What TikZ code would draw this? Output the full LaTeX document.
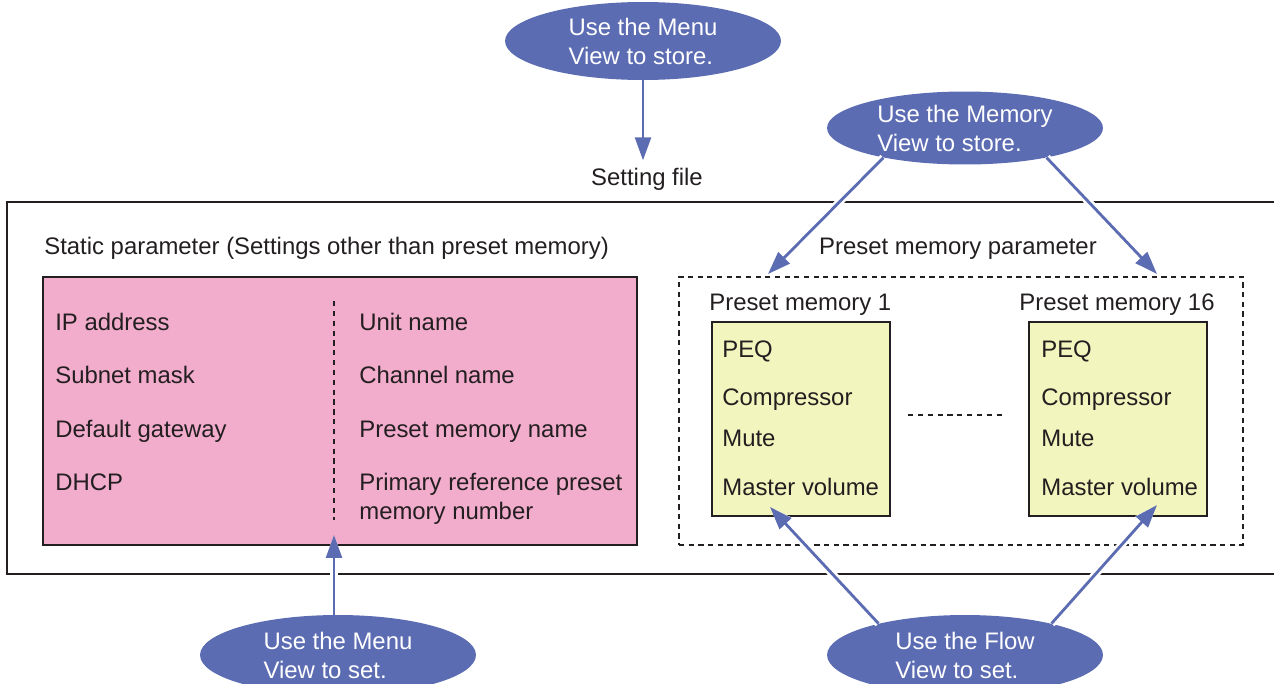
\documentclass[tikz,border=0pt]{standalone}
\usepackage{fontspec}
\setmainfont{Liberation Sans}
\usetikzlibrary{shapes.geometric,arrows.meta,fit}

\definecolor{viewblue}{RGB}{92,108,178}
\definecolor{staticpink}{RGB}{242,172,204}
\definecolor{presetyellow}{RGB}{243,245,190}
\definecolor{inkgray}{RGB}{35,31,32}

\tikzset{
  txt/.style={anchor=base west, inner sep=0pt, text=inkgray, font=\fontsize{13.6}{16.5}\selectfont},
  viewbubble/.style={ellipse, fill=viewblue, text=white, align=left, inner sep=0pt,
    minimum width=5.52cm, minimum height=1.56cm, font=\fontsize{13.6}{16.5}\selectfont},
  viewarrow/.style={draw=viewblue, line width=1.6pt, -{Triangle[length=13pt,width=9pt]},
    preaction={draw=white, line width=4.5pt}},
  framebox/.style={draw=inkgray, line width=1.4pt, inner sep=0pt},
  staticbox/.style={draw=inkgray, fill=staticpink, line width=1.6pt, inner sep=0pt},
  presetbox/.style={draw=inkgray, fill=presetyellow, line width=1.5pt, inner sep=0pt},
  presetarea/.style={draw=inkgray, line width=1.5pt, dash pattern=on 3pt off 2.5pt, inner sep=0pt}
}

\begin{document}
\begin{tikzpicture}[x=0.02cm, y=-0.02cm]
    \clip (0,0) rectangle (1274,683);

    % Outer frame of the setting file
    \node[framebox, fit={(7,202) (1320,574)}] (settingframe) {};
    \node[txt, anchor=base] (setfile) at (647,185) {Setting file};

    % Static parameters
    \node[txt] (statictitle) at (44,254) {Static parameter (Settings other than preset memory)};
    \node[staticbox, fit={(43,277) (637,545)}] (static) {};
    \draw[inkgray, line width=0.6pt, dash pattern=on 3pt off 2.6pt] (334,301) -- (334,520);
    \node[txt] (ip) at (55,330) {IP address};
    \node[txt] (subnet) at (55,383) {Subnet mask};
    \node[txt] (gateway) at (55,437) {Default gateway};
    \node[txt] (dhcp) at (55,490) {DHCP};
    \node[txt] (unitname) at (359,330) {Unit name};
    \node[txt] (chname) at (359,383) {Channel name};
    \node[txt] (pmname) at (359,437) {Preset memory name};
    \node[txt] (primref) at (359,490) {Primary reference preset};
    \node[txt] (primnum) at (359,519) {memory number};

    % Preset memory parameters
    \node[txt, anchor=base] (presettitle) at (958,254) {Preset memory parameter};
    \node[presetarea, fit={(679,277) (1243,545)}] (presetarea) {};
    \node[txt] (pm1title) at (709,310) {Preset memory 1};
    \node[txt] (pm16title) at (1019,310) {Preset memory 16};
    \node[presetbox, fit={(712,322) (890,516)}] (pm1) {};
    \node[presetbox, fit={(1029,322) (1207,516)}] (pm16) {};
    \foreach \x/\n in {722/a, 1041/b} {
        \node[txt] (peq\n) at (\x,357) {PEQ};
        \node[txt] (comp\n) at (\x,405) {Compressor};
        \node[txt] (mute\n) at (\x,446) {Mute};
        \node[txt] (vol\n) at (\x,495) {Master volume};
    }
    \draw[inkgray, line width=0.6pt, dash pattern=on 3pt off 2.6pt] (908,415) -- (1006,415);

    % Views
    \node[viewbubble] (menustore) at (643,41) {Use the Menu\\View to store.};
    \node[viewbubble, minimum height=1.46cm] (memstore) at (965,128) {Use the Memory\\View to store.};
    \node[viewbubble, minimum height=1.6cm] (menuset) at (338,655) {Use the Menu\\View to set.};
    \node[viewbubble, minimum height=1.6cm] (flowset) at (965,655) {Use the Flow\\View to set.};

    \coordinate (pm1in) at (768,274);
    \coordinate (pm16in) at (1157,274);
    \coordinate (staticin) at (334,535);
    \coordinate (pm1vol) at (770,507);
    \coordinate (pm16vol) at (1157,505);

    \draw[viewarrow, shorten >=4pt] (menustore.south) -- (menustore.south |- setfile.north);
    \draw[viewarrow] (memstore.200) -- (pm1in);
    \draw[viewarrow] (memstore.340) -- (pm16in);
    \draw[viewarrow] (menuset.north -| staticin) -- (staticin);
    \draw[viewarrow] (flowset.160) -- (pm1vol);
    \draw[viewarrow] (flowset.20) -- (pm16vol);

\end{tikzpicture}
\end{document}
